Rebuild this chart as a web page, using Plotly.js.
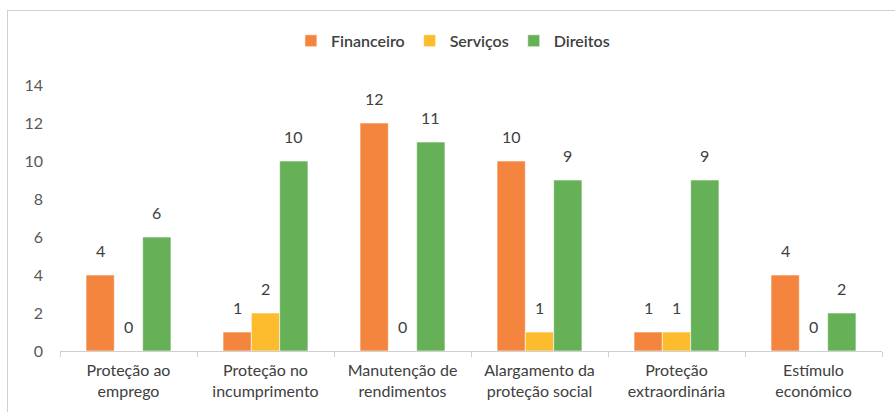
<!DOCTYPE html>
<html>
<head>
<meta charset="utf-8">
<script src="https://cdn.plot.ly/plotly-3.0.1.min.js"></script>
<style>
  html, body { margin: 0; padding: 0; background: #fff; }
  #wrap { position: relative; width: 895px; height: 412px; }
  #chart { position: absolute; left: 0; top: 0; width: 895px; height: 412px; }
  #frame { position: absolute; left: 7px; top: 10px; width: 888px; height: 402px;
           border-top: 1px solid #d0d0d0; border-left: 1px solid #d0d0d0; pointer-events: none; }
</style>
</head>
<body>
<div id="wrap"><div id="chart"></div><div id="frame"></div></div>
<script>
const categories = [
  "Proteção ao<br>emprego",
  "Proteção no<br>incumprimento",
  "Manutenção de<br>rendimentos",
  "Alargamento da<br>proteção social",
  "Proteção<br>extraordinária",
  "Estímulo<br>económico"
];
const seriesNames = ["Financeiro", "Serviços", "Direitos"];
const financeiro = [4, 1, 12, 10, 1, 4];
const servicos   = [0, 2, 0, 1, 1, 0];
const direitos   = [6, 10, 11, 9, 9, 2];
const yTicks = [0, 2, 4, 6, 8, 10, 12, 14];

const colors = ["#F4853F", "#FDBC2E", "#66B158"];
const allSeries = [financeiro, servicos, direitos];

const W = 895, H = 412;
const margin = {l: 60, r: 13, t: 85, b: 61};
const bargap = 0.38;
const plotW = W - margin.l - margin.r;
const barPx = plotW / categories.length * (1 - bargap) / allSeries.length;

const font = "Lato, 'Open Sans', sans-serif";

const traces = allSeries.map((vals, i) => ({
  type: "bar",
  name: seriesNames[i],
  x: categories,
  y: vals,
  marker: {color: colors[i], line: {color: "rgba(255,255,255,0.6)", width: 1}},
  hoverinfo: "skip"
}));

const annotations = [];
allSeries.forEach((vals, i) => {
  vals.forEach((v, j) => {
    annotations.push({
      x: categories[j], y: v, xref: "x", yref: "y",
      text: String(v), showarrow: false,
      xanchor: "center", yanchor: "bottom",
      xshift: (i - 1) * barPx, yshift: 13,
      font: {family: font, size: 16, color: "#404040"}
    });
  });
});

const layout = {
  width: W, height: H,
  margin: margin,
  paper_bgcolor: "rgba(0,0,0,0)",
  plot_bgcolor: "rgba(0,0,0,0)",
  barmode: "group",
  bargap: bargap,
  bargroupgap: 0,
  showlegend: true,
  legend: {
    orientation: "h", x: 0.478, xanchor: "center", y: 1.166, yanchor: "middle",
    font: {family: font, size: 16, color: "#404040", weight: 600},
    itemwidth: 30, tracegroupgap: 0
  },
  xaxis: {
    type: "category",
    showgrid: false, zeroline: false,
    showline: true, linecolor: "#cfcfcf", linewidth: 1,
    ticks: "outside", tickson: "boundaries", ticklen: 5, tickcolor: "#cfcfcf",
    ticklabelstandoff: 5,
    tickfont: {family: font, size: 16, color: "#404040"},
    fixedrange: true
  },
  yaxis: {
    range: [0, 14],
    tickvals: yTicks,
    showgrid: false, zeroline: false, showline: false,
    ticks: "", ticklabelstandoff: 16,
    tickfont: {family: font, size: 16, color: "#595959"},
    fixedrange: true
  },
  annotations: annotations
};

Plotly.newPlot("chart", traces, layout, {displayModeBar: false, staticPlot: true});
</script>
</body>
</html>
